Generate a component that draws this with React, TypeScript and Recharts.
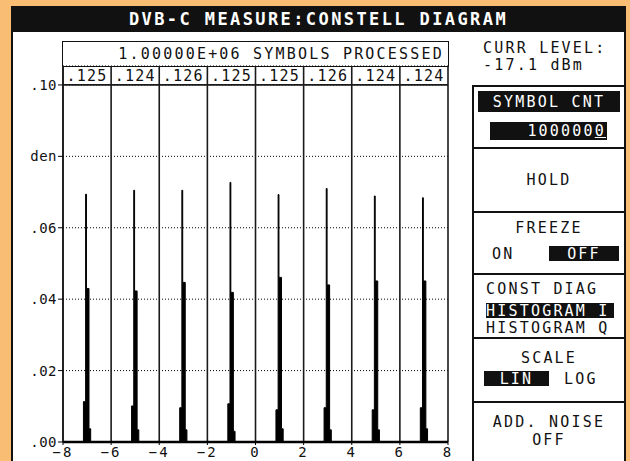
import React from 'react';
import {
  ComposedChart,
  Area,
  Scatter,
  XAxis,
  YAxis,
  CartesianGrid,
  ReferenceLine
} from 'recharts';

// I-level histogram of the 64QAM constellation (8 levels)
const peakCenters = [-7, -5, -3, -1, 1, 3, 5, 7];
const spikeDensity = [0.0694, 0.0705, 0.0705, 0.0727, 0.0693, 0.071, 0.0689, 0.0684];
const mainDensity = [0.043, 0.0423, 0.0447, 0.0419, 0.0461, 0.044, 0.0451, 0.0451];
const leftShoulder = [0.0113, 0.0101, 0.0096, 0.0107, 0.009, 0.0096, 0.009, 0.0096];
const rightShoulder = [0.0037, 0.0034, 0.0034, 0.003, 0.0037, 0.0034, 0.0034, 0.0037];
// bin edges around each level, in I units
const binEdges = [-0.15, -0.06, -0.025, 0.08, 0.15];
const symbolShares = ['.125', '.124', '.126', '.125', '.125', '.126', '.124', '.124'];

const xTicks = [-8, -6, -4, -2, 0, 2, 4, 6, 8];
const yTicks = [0, 0.02, 0.04, 0.06, 0.08, 0.1];
const yTickLabels = ['.00', '.02', '.04', '.06', 'den', '.10'];

const histogram: { x: number; d: number }[] = [{ x: -8, d: 0 }];
peakCenters.forEach((c, i) => {
  const levels = [leftShoulder[i], spikeDensity[i], mainDensity[i], rightShoulder[i], 0];
  binEdges.forEach((e, k) => histogram.push({ x: c + e, d: levels[k] }));
});
histogram.push({ x: 8, d: 0 });

const countRow = peakCenters.map((c, i) => ({ x: c, y: 0.1026, share: symbolShares[i] }));

const MONO = '"DejaVu Sans Mono", "Liberation Mono", monospace';
const INK = '#111';
const ORANGE = '#FABD74';

const ShareLabel = (props: any) => (
  <text
    x={props.cx}
    y={props.cy}
    textAnchor="middle"
    dominantBaseline="central"
    fill={INK}
    fontSize={15}
    fontFamily={MONO}
    letterSpacing={1.2}
  >
    {props.payload.share}
  </text>
);

const Row = ({ x, y, w, h, align = 'center', inv = false, pad = 0, children }: any) => (
  <div
    style={{
      position: 'absolute',
      left: x,
      top: y,
      width: w,
      height: h,
      display: 'flex',
      alignItems: 'center',
      justifyContent: align === 'left' ? 'flex-start' : align === 'right' ? 'flex-end' : 'center',
      background: inv ? INK : 'transparent',
      color: inv ? '#fff' : INK,
      paddingLeft: align === 'left' ? pad : 0,
      paddingRight: align === 'right' ? pad : 0,
      boxSizing: 'border-box',
      whiteSpace: 'pre'
    }}
  >
    {children}
  </div>
);

const HLine = ({ y }: { y: number }) => (
  <div style={{ position: 'absolute', left: 472, top: y, width: 152, height: 2, background: INK }} />
);

export default function App() {
  return (
    <div
      style={{
        position: 'fixed',
        left: 0,
        top: 0,
        width: 630,
        height: 461,
        overflow: 'hidden',
        background: ORANGE,
        fontFamily: MONO,
        fontSize: 15,
        letterSpacing: 2.2
      }}
    >
      {/* frame and title */}
      <div style={{ position: 'absolute', left: 11, top: 6, width: 615, height: 470, background: INK }} />
      <div style={{ position: 'absolute', left: 13, top: 32, width: 611, height: 440, background: '#fff' }} />
      <div
        style={{
          position: 'absolute',
          left: 11,
          top: 6,
          width: 615,
          height: 26,
          display: 'flex',
          alignItems: 'center',
          justifyContent: 'center',
          color: '#fff',
          fontSize: 17,
          fontWeight: 'bold',
          letterSpacing: 2.4
        }}
      >
        DVB-C MEASURE:CONSTELL DIAGRAM
      </div>

      {/* symbols processed box */}
      <div
        style={{
          position: 'absolute',
          left: 62,
          top: 41,
          width: 387,
          height: 26,
          border: `1.5px solid ${INK}`,
          boxSizing: 'border-box',
          display: 'flex',
          alignItems: 'center',
          justifyContent: 'flex-end',
          paddingRight: 4,
          color: INK
        }}
      >
        1.00000E+06 SYMBOLS PROCESSED
      </div>

      <div style={{ position: 'absolute', left: 0, top: 0 }}>
        <ComposedChart
          width={460}
          height={461}
          data={histogram}
          margin={{ top: 66, right: 12, bottom: 0, left: 13 }}
        >
          <CartesianGrid horizontal vertical={false} stroke="#000" strokeDasharray="1 2" />
          <CartesianGrid horizontal={false} vertical stroke="#1a1a1a" strokeWidth={1.6} />
          <XAxis
            type="number"
            dataKey="x"
            domain={[-8, 8]}
            ticks={xTicks}
            interval={0}
            tickFormatter={(v: number) => String(v).replace('-', '\u2212')}
            height={19}
            tickSize={3}
            tickMargin={2}
            axisLine={{ stroke: '#000', strokeWidth: 2.5 }}
            tickLine={{ stroke: '#000' }}
            tick={{ fill: INK, fontSize: 14, fontFamily: MONO }}
          />
          <YAxis
            type="number"
            domain={[0, 0.1053]}
            ticks={yTicks}
            interval={0}
            tickFormatter={(v: number) => yTickLabels[yTicks.indexOf(v)]}
            width={50}
            tickSize={5}
            tickMargin={1}
            axisLine={{ stroke: '#1a1a1a', strokeWidth: 1.6 }}
            tickLine={{ stroke: '#000' }}
            tick={{ fill: INK, fontSize: 14, fontFamily: MONO, letterSpacing: 0.5 }}
          />
          <ReferenceLine y={0.1} stroke="#1a1a1a" strokeWidth={1.6} />
          <Area
            type="stepAfter"
            dataKey="d"
            stroke="#000"
            strokeWidth={1}
            fill="#000"
            fillOpacity={1}
            dot={false}
            activeDot={false}
            isAnimationActive={false}
          />
          <Scatter data={countRow} dataKey="y" shape={ShareLabel} isAnimationActive={false} />
        </ComposedChart>
      </div>

      {/* right soft-key column */}
      <Row x={483} y={40} w={140} h={16} align="left">CURR LEVEL:</Row>
      <Row x={483} y={57} w={140} h={16} align="left">-17.1 dBm</Row>

      <div style={{ position: 'absolute', left: 472, top: 85, width: 2, height: 380, background: INK }} />
      <HLine y={85} />
      <Row x={478} y={91} w={142} h={21} inv>SYMBOL CNT</Row>
      <Row x={490} y={122} w={117} h={18} inv align="right" pad={1}>
        <span>100000</span>
        <span style={{ textDecoration: 'underline' }}>0</span>
      </Row>
      <HLine y={147} />
      <Row x={474} y={170} w={150} h={20}>HOLD</Row>
      <HLine y={211} />
      <Row x={474} y={219} w={150} h={18}>FREEZE</Row>
      <Row x={492} y={245} w={30} h={17} align="left">ON</Row>
      <Row x={549} y={246} w={70} h={15} inv>OFF</Row>
      <HLine y={273} />
      <Row x={486} y={280} w={136} h={17} align="left">CONST DIAG</Row>
      <Row x={486} y={303} w={128} h={15} inv align="left">HISTOGRAM I</Row>
      <Row x={486} y={319} w={136} h={17} align="left">HISTOGRAM Q</Row>
      <HLine y={337} />
      <Row x={474} y={349} w={150} h={18}>SCALE</Row>
      <Row x={484} y={371} w={65} h={15} inv>LIN</Row>
      <Row x={564} y={370} w={40} h={17} align="left">LOG</Row>
      <HLine y={401} />
      <Row x={474} y={413} w={150} h={18}>ADD. NOISE</Row>
      <Row x={474} y={431} w={150} h={18}>OFF</Row>
    </div>
  );
}
